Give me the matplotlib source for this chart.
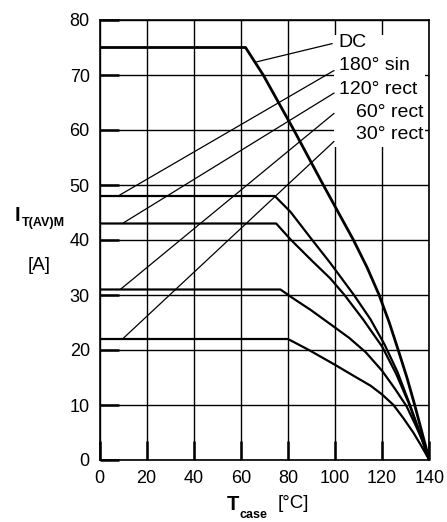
import matplotlib
matplotlib.use("Agg")
import matplotlib.pyplot as plt
from matplotlib.patches import Rectangle

plt.rcParams['font.family'] = ['Liberation Sans', 'DejaVu Sans']

# case temperature [°C] / max average on-state current [A]
dc_T = [0, 62, 69.5, 82.5, 95, 101.4, 107.8, 113.6, 118.7, 123.0, 126.8, 130.5, 133.8, 136.9, 140]
dc_I = [75, 75, 70, 60, 50, 45, 40, 35, 30, 25, 20, 15, 10, 5, 0]

sin180_T = [0, 74.4, 81.1, 90.3, 98, 108, 115, 121, 126.5, 131.8, 136, 140]
sin180_I = [48, 48, 45.1, 40, 35.8, 30, 25.6, 21, 16, 10, 5, 0]

rect120_T = [0, 75, 81.1, 90, 98, 104, 112, 120, 126, 131.6, 135.8, 140]
rect120_I = [43, 43, 40.1, 36.3, 33.0, 30, 25.5, 20.6, 15.6, 10, 5, 0]

rect60_T = [0, 76.8, 82.5, 89.6, 98, 106, 113, 120, 125.5, 130.3, 134, 137, 140]
rect60_I = [31, 31, 29.3, 27.3, 24.7, 22.2, 19.6, 16.2, 12.9, 9.8, 6.5, 3.6, 0]

rect30_T = [0, 80, 88.9, 100, 107.5, 115.1, 120, 124.8, 129, 133.2, 136.7, 140]
rect30_I = [22, 22, 20, 17.3, 15.4, 13.5, 11.9, 10, 7.6, 5, 2.5, 0]

labels = ['DC', '180° sin', '120° rect', '60° rect', '30° rect']
x_ticks = [0, 20, 40, 60, 80, 100, 120, 140]
y_ticks = [0, 10, 20, 30, 40, 50, 60, 70, 80]

W, H = 447, 522
fig = plt.figure(figsize=(W / 100, H / 100), dpi=100)
ax = fig.add_axes([99.5 / W, 1 - 460 / H, (429.3 - 99.5) / W, (460 - 20) / H])

ax.set_xlim(0, 140)
ax.set_ylim(0, 80)
ax.set_xticks(x_ticks)
ax.set_yticks(y_ticks)
ax.grid(True, color='black', linewidth=1.0)
ax.set_axisbelow(True)
ax.tick_params(direction='in', length=14, width=1.8, labelsize=13, pad=7)
for s in ax.spines.values():
    s.set_linewidth(1.2)

# curves
ax.plot(dc_T, dc_I, color='black', lw=2.0, zorder=4)
ax.plot(sin180_T, sin180_I, color='black', lw=1.6, zorder=4)
ax.plot(rect120_T, rect120_I, color='black', lw=1.6, zorder=4)
ax.plot(rect60_T, rect60_I, color='black', lw=1.6, zorder=4)
ax.plot(rect30_T, rect30_I, color='black', lw=1.6, zorder=4)

# white box behind the labels
ax.add_patch(Rectangle((99.4, 56.9), 38.7, 20.4, facecolor='white',
                       edgecolor='none', zorder=2))

# leader lines
leaders = [((66.8, 72.4), (98.7, 75.7)),
           ((8.7, 48.2), (99.5, 70.8)),
           ((10.1, 43.1), (99.5, 66.7)),
           ((9.1, 31.1), (99.5, 63.0)),
           ((9.9, 22.05), (99.5, 57.9))]
for (x0, y0), (x1, y1) in leaders:
    ax.plot([x0, x1], [y0, y1], color='black', lw=0.9, zorder=3)

label_y = [75.9, 71.8, 67.4, 63.2, 59.1]
for i, (txt, ty) in enumerate(zip(labels, label_y)):
    if i < 3:
        ax.text(101.5, ty, txt, ha='left', va='center', fontsize=14, zorder=5)
    else:
        ax.text(137.6, ty, txt, ha='right', va='center', fontsize=14, zorder=5)

# axis titles
fig.text(15 / W, 1 - 216 / H, 'I', fontsize=14.5, fontweight='bold', ha='left', va='center')
fig.text(21.5 / W, 1 - 223 / H, 'T(AV)M', fontsize=9, fontweight='bold', ha='left', va='center')
fig.text(39 / W, 1 - 265 / H, '[A]', fontsize=13.5, ha='center', va='center')

fig.text(226.5 / W, 1 - 504 / H, 'T', fontsize=14.5, fontweight='bold', ha='left', va='center')
fig.text(239 / W, 1 - 515 / H, 'case', fontsize=9, fontweight='bold', ha='left', va='center')
fig.text(278 / W, 1 - 504 / H, '[°C]', fontsize=13.5, ha='left', va='center')

fig.savefig('out.png', dpi=100)
